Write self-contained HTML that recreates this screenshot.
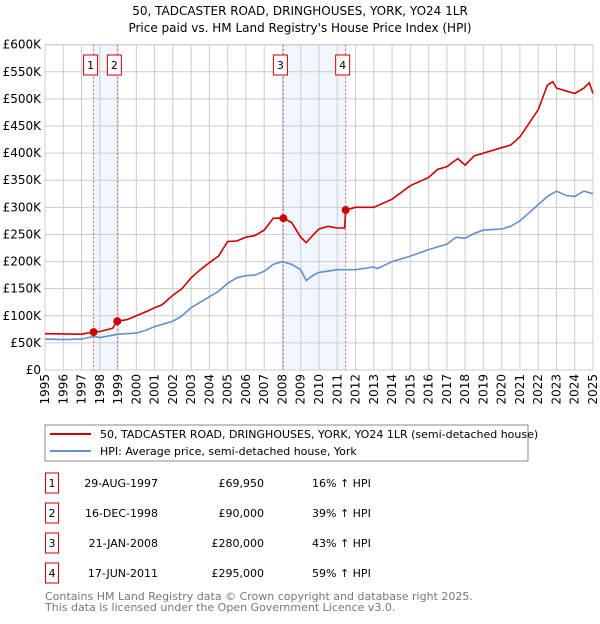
<!DOCTYPE html>
<html><head><meta charset="utf-8"><style>
body{margin:0;background:#fff;font-family:"DejaVu Sans","Liberation Sans",sans-serif;}
svg text{font-family:"DejaVu Sans","Liberation Sans",sans-serif;}
</style></head><body>
<svg id="c" width="600" height="620" xmlns="http://www.w3.org/2000/svg">
<text x="300" y="15" text-anchor="middle" font-size="12">50, TADCASTER ROAD, DRINGHOUSES, YORK, YO24 1LR</text>
<text x="300" y="32" text-anchor="middle" font-size="12">Price paid vs. HM Land Registry's House Price Index (HPI)</text>
<g id="plot"></g>
<rect x="45" y="425" width="483" height="36" fill="none" stroke="#888"/>
<line x1="50" y1="434" x2="91" y2="434" stroke="#cc0000" stroke-width="2"/>
<text x="100" y="438" font-size="11">50, TADCASTER ROAD, DRINGHOUSES, YORK, YO24 1LR (semi-detached house)</text>
<line x1="50" y1="451" x2="91" y2="451" stroke="#6090d0" stroke-width="2"/>
<text x="100" y="455" font-size="11">HPI: Average price, semi-detached house, York</text>
<g id="table" font-size="11"></g>
<text x="45" y="600" font-size="11" fill="#777">Contains HM Land Registry data © Crown copyright and database right 2025.</text>
<text x="45" y="611" font-size="11" fill="#777">This data is licensed under the Open Government Licence v3.0.</text>
</svg>
<script>
const hpiYears=[1995,1996,1997,1997.7,1998,1999,2000,2000.5,2001,2002,2002.5,2003,2004,2004.5,2005,2005.5,2006,2006.5,2007,2007.5,2008,2008.5,2009,2009.3,2009.7,2010,2011,2012,2013,2013.2,2014,2015,2016,2017,2017.5,2018,2018.5,2019,2020,2020.5,2021,2021.5,2022,2022.5,2023,2023.5,2024,2024.5,2025];
const hpiValues=[57,56,57,62,60,66,68,73,80,90,100,115,135,145,160,170,174,175,182,195,200,195,185,165,175,180,185,185,190,187,200,210,222,232,245,243,252,258,260,265,275,290,305,320,330,322,320,330,325];
const priceYears=[1995,1997,1997.66,1998,1998.7,1998.96,1999.5,2000,2000.7,2001,2001.4,2002,2002.5,2003,2003.5,2004,2004.5,2005,2005.5,2006,2006.5,2007,2007.5,2008.05,2008.5,2009,2009.3,2009.7,2010,2010.5,2011,2011.4,2011.46,2012,2013,2014,2015,2016,2016.5,2017,2017.6,2018,2018.5,2019,2020,2020.5,2021,2021.5,2022,2022.5,2022.8,2023,2023.5,2024,2024.5,2024.8,2025];
const priceValues=[67,66,70,71,77,90,93,100,110,115,120,138,150,170,185,198,210,237,238,245,248,258,280,280,272,245,235,250,260,265,262,262,295,300,300,315,340,355,370,375,390,378,395,400,410,415,430,455,480,525,532,520,515,510,520,530,510];
const saleYears=[1997.66,1998.96,2008.05,2011.46];
const saleValues=[69.95,90,280,295];
const saleLabels=["1","2","3","4"];
const saleDates=["29-AUG-1997","16-DEC-1998","21-JAN-2008","17-JUN-2011"];
const salePrices=["£69,950","£90,000","£280,000","£295,000"];
const saleHpi=["16% ↑ HPI","39% ↑ HPI","43% ↑ HPI","59% ↑ HPI"];
const yTicks=[0,50,100,150,200,250,300,350,400,450,500,550,600];
const yTickLabels=["£0","£50K","£100K","£150K","£200K","£250K","£300K","£350K","£400K","£450K","£500K","£550K","£600K"];
const xTicks=[1995,1996,1997,1998,1999,2000,2001,2002,2003,2004,2005,2006,2007,2008,2009,2010,2011,2012,2013,2014,2015,2016,2017,2018,2019,2020,2021,2022,2023,2024,2025];

const X0=45,X1=593,Y0=370,Y1=44.7;
const xs=y=>X0+(y-1995)/30*(X1-X0);
const ys=v=>Y0-v/600*(Y0-Y1);
const NS="http://www.w3.org/2000/svg";
const plot=document.getElementById('plot');
function mk(tag,attrs,parent){const e=document.createElementNS(NS,tag);for(const k in attrs)e.setAttribute(k,attrs[k]);(parent||plot).appendChild(e);return e;}

let e;
e=mk('rect',{x:xs(saleYears[0]),y:Y1,width:xs(saleYears[1])-xs(saleYears[0]),height:Y0-Y1,fill:'#f1f5fd'});


e=mk('rect',{x:xs(saleYears[2]),y:Y1,width:xs(saleYears[3])-xs(saleYears[2]),height:Y0-Y1,fill:'#f1f5fd'});


yTicks.forEach((t,i)=>{
  e=mk('line',{x1:X0,x2:X1,y1:ys(t),y2:ys(t),stroke:'#ccc'});
  
  
  e=mk('text',{x:41,y:ys(t)+4,'text-anchor':'end','font-size':12});
  
  
  e.textContent=yTickLabels[i];
});
xTicks.forEach(t=>{
  e=mk('line',{x1:xs(t),x2:xs(t),y1:Y1,y2:Y0,stroke:'#ccc'});
  
  
  const x=xs(t)+4,y=Y0+4;
  e=mk('text',{x:x,y:y,'text-anchor':'end','font-size':12,transform:`rotate(-90 ${x} ${y})`});
  
  
  e.textContent=t;
});
e=mk('rect',{x:X0,y:Y1,width:X1-X0,height:Y0-Y1,fill:'none',stroke:'#ccc'});


saleYears.forEach((s,i)=>{
  e=mk('line',{x1:xs(s),x2:xs(s),y1:Y1,y2:Y0,stroke:'#e06060','stroke-dasharray':'2,2'});
  
  
  e=mk('rect',{x:xs(s)-10,y:55,width:14,height:20,fill:'#fff',stroke:'#cc0000'});
  
  
  e=mk('text',{x:xs(s)-3,y:69,'text-anchor':'middle','font-size':11});
  
  
  e.textContent=saleLabels[i];
});
function path(xa,va){return xa.map((y,i)=>(i?'L':'M')+xs(y).toFixed(1)+','+ys(va[i]).toFixed(1)).join('');}
e=mk('path',{d:path(hpiYears,hpiValues),fill:'none',stroke:'#6090d0','stroke-width':1.6});


e=mk('path',{d:path(priceYears,priceValues),fill:'none',stroke:'#cc0000','stroke-width':1.6});


saleYears.forEach((s,i)=>{
  e=mk('circle',{cx:xs(s),cy:ys(saleValues[i]),r:4,fill:'#cc0000'});
  
  
});
const tb=document.getElementById('table');
saleLabels.forEach((l,i)=>{
  const cy=483+i*30;
  e=mk('rect',{x:45.5,y:cy-10,width:13,height:20,fill:'none',stroke:'#cc0000'},tb);
  
  
  e=mk('text',{x:52,y:cy+4,'text-anchor':'middle'},tb);
  
  
  e.textContent=l;
  e=mk('text',{x:158,y:cy+4,'text-anchor':'end'},tb);
  
  
  e.textContent=saleDates[i];
  e=mk('text',{x:264,y:cy+4,'text-anchor':'end'},tb);
  
  
  e.textContent=salePrices[i];
  e=mk('text',{x:312,y:cy+4},tb);
  
  
  e.textContent=saleHpi[i];
});
</script>
</body></html>
